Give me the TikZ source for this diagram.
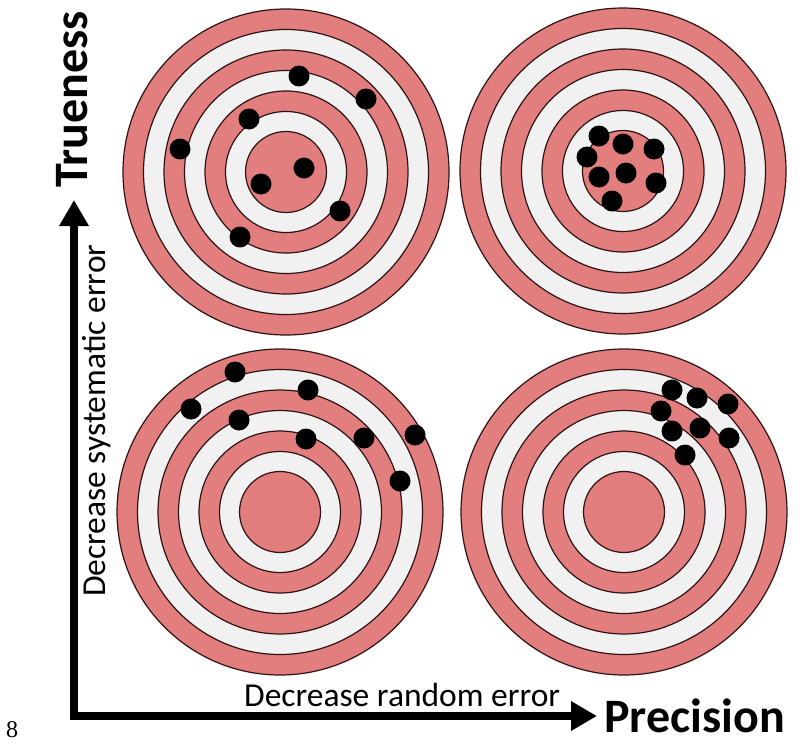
\documentclass[tikz,border=0pt]{standalone}
\usepackage{fontspec}
\setmainfont{Carlito}
\newfontfamily\numserif{Liberation Serif}
\usetikzlibrary{arrows.meta}
\definecolor{ringpink}{RGB}{226,126,126}
\definecolor{ringwhite}{RGB}{241,241,241}
\definecolor{ringline}{RGB}{45,20,20}
\tikzset{
  ring/.style={draw=ringline, line width=1.2pt},
  shot/.style={fill=black, draw=none},
  axisline/.style={line width=8pt, line join=miter,
    {Triangle[length=26pt,width=28pt]}-{Triangle[length=26pt,width=28pt]}},
  axislabel/.style={font=\fontsize{33.5}{36}\selectfont, inner sep=0pt},
  axistitle/.style={font=\fontsize{48}{52}\selectfont\bfseries, inner sep=0pt},
}
\newcommand{\drawtarget}[2]{%
  \foreach \r/\c in {163/ringpink,142.5/ringwhite,122/ringpink,101.5/ringwhite,81/ringpink,60.5/ringwhite,40.5/ringpink}{
    \filldraw[ring, fill=\c] (#1,#2) circle[radius=\r];
  }%
}
\newcommand{\shots}[1]{%
  \foreach \p in {#1}{\fill[shot] \p circle[radius=10.5];}%
}
\begin{document}
\begin{tikzpicture}[x=1pt,y=-1pt]
\useasboundingbox (0,0) rectangle (800,744);
\fill[white] (0,0) rectangle (800,744);
% targets
\drawtarget{286}{172}
\drawtarget{623}{171}
\drawtarget{280}{512}
\drawtarget{624}{512}
% shots
\shots{(299,76),(366,99),(249,119),(180,149),(304,168),(261,184),(340,211),(240,237)}
\shots{(599,136),(623,144),(654,149),(587,157),(599,177),(626,173),(656,183),(612,201)}
\shots{(235,372),(308,390),(191,409),(239,420),(415,435),(306,439),(364,438),(400,481)}
\shots{(672,390),(697,398),(728,404),(661,411),(672,431),(700,428),(729,438),(685,455)}
% axes
\coordinate (corner) at (74,716);
\coordinate (ytip) at (74,200);
\coordinate (xtip) at (597,716);
\draw[axisline] (ytip) -- (corner) -- (xtip);
% labels
\node[axislabel, anchor=base west] (xlab) at (244,706) {Decrease random error};
\node[axislabel, anchor=base west, rotate=90] (ylab) at (105,597) {Decrease systematic error};
\node[axistitle, anchor=base west] (prec) at (604,732) {Precision};
\node[axistitle, anchor=base west, rotate=90] (true) at (87,188) {Trueness};
\node[font=\numserif\fontsize{24}{26}\selectfont, anchor=base west, inner sep=0pt] (num) at (6,737) {8};
\end{tikzpicture}
\end{document}
